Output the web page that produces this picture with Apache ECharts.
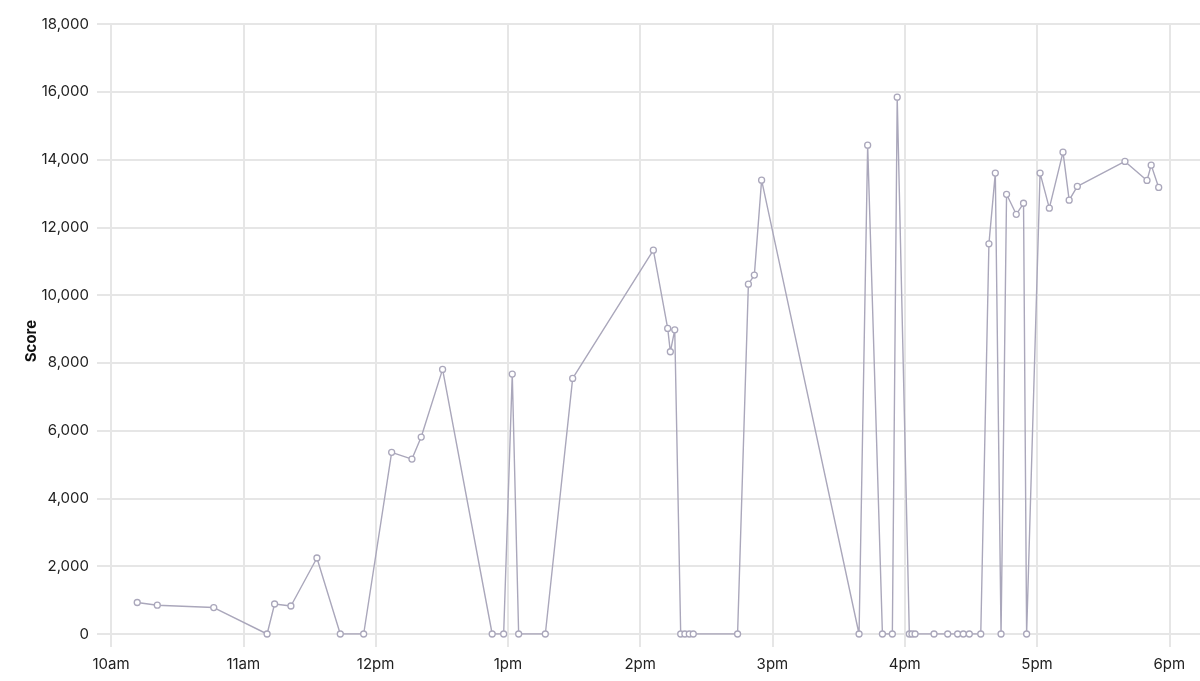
<!DOCTYPE html>
<html>
<head>
<meta charset="utf-8">
<script src="https://cdn.jsdelivr.net/npm/echarts@6/dist/echarts.min.js"></script>
<style>
html,body{margin:0;padding:0;background:#fff;overflow:hidden;}
#chart{width:1210px;height:681px;}
</style>
</head>
<body>
<div id="chart"></div>
<script>
// Times of day (HH:MM:SS) and scores
const times = [
  "10:11:54","10:21:00","10:46:36","11:10:48","11:14:12","11:21:36","11:33:24","11:44:00","11:54:36",
  "12:07:18","12:16:30","12:20:42","12:30:24","12:52:54","12:58:06","13:02:00","13:04:54","13:17:00",
  "13:29:24","14:06:00","14:12:30","14:13:42","14:15:42","14:18:24","14:20:18","14:22:18","14:24:06",
  "14:44:12","14:49:06","14:51:48","14:55:06","15:39:18","15:43:12","15:49:54","15:54:24","15:56:36",
  "16:02:06","16:03:18","16:04:42","16:13:18","16:19:30","16:24:00","16:26:36","16:29:18","16:34:30",
  "16:38:12","16:41:06","16:43:42","16:46:12","16:50:36","16:53:54","16:55:18","17:01:24","17:05:36",
  "17:11:48","17:14:36","17:18:18","17:39:54","17:49:54","17:51:48","17:55:12"
];
const scores = [
  930, 850, 780, 0, 885, 826, 2242, 0, 0,
  5360, 5162, 5811, 7808, 0, 0, 7670, 0, 0,
  7543, 11327, 9018, 8328, 8977, 0, 0, 0, 0,
  0, 10324, 10590, 13392, 0, 14425, 0, 0, 15841,
  0, 0, 0, 0, 0, 0, 0, 0, 0,
  11513, 13600, 0, 12975, 12385, 12710, 0, 13600, 12566,
  14218, 12802, 13206, 13944, 13383, 13835, 13177
];
const xStart = "10:00:00";
const xEnd = "18:15:18";
const yTicks = [0, 2000, 4000, 6000, 8000, 10000, 12000, 14000, 16000, 18000];

function ts(s) {
  const p = s.split(":").map(Number);
  return Date.UTC(2024, 0, 1, p[0], p[1], p[2] || 0);
}
const data = times.map((t, i) => [ts(t), scores[i]]);

const gridColor = "#e6e6e6";
const chart = echarts.init(document.getElementById("chart"));
chart.setOption({
  useUTC: true,
  animation: false,
  backgroundColor: "#fff",
  grid: { left: 111, right: 7, top: 24, bottom: 47, containLabel: false },
  xAxis: {
    type: "time",
    min: ts(xStart),
    max: ts(xEnd),
    minInterval: 3600 * 1000,
    maxInterval: 3600 * 1000,
    axisLine: { show: false },
    axisTick: { show: true, length: 13, lineStyle: { color: gridColor, width: 2 } },
    splitLine: { show: true, lineStyle: { color: gridColor, width: 2 } },
    axisLabel: {
      margin: 23,
      color: "#222",
      fontSize: 15,
      fontFamily: "Inter",
      showMinLabel: true,
      hideOverlap: false,
      formatter: function (v) {
        const h = new Date(v).getUTCHours();
        const h12 = h % 12 === 0 ? 12 : h % 12;
        return h12 + (h < 12 ? "am" : "pm");
      }
    }
  },
  yAxis: {
    type: "value",
    min: yTicks[0],
    max: yTicks[yTicks.length - 1],
    interval: yTicks[1] - yTicks[0],
    name: "Score",
    nameLocation: "middle",
    nameGap: 72,
    nameRotate: 90,
    nameMoveOverlap: false,
    nameTextStyle: { fontFamily: "Inter", fontSize: 15, fontWeight: "bold", color: "#111", padding: [0, 24, 0, 0] },
    axisLine: { show: false },
    axisTick: { show: true, length: 14, lineStyle: { color: gridColor, width: 2 } },
    splitLine: { show: true, lineStyle: { color: gridColor, width: 2 } },
    axisLabel: {
      margin: 22,
      color: "#222",
      fontSize: 15,
      fontFamily: "Inter",
      formatter: function (v) { return v.toLocaleString("en-US"); }
    }
  },
  series: [{
    type: "line",
    data: data,
    symbol: "circle",
    symbolSize: 6,
    showAllSymbol: true,
    lineStyle: { color: "#aaa7bb", width: 1.4 },
    itemStyle: { color: "#fff", borderColor: "#aaa7bb", borderWidth: 1.3 }
  }]
});
</script>
</body>
</html>
